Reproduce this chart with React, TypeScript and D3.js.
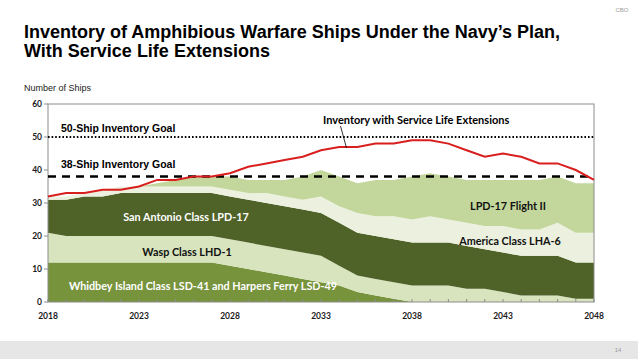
import React from "react";
import * as d3 from "d3";

const years = [2018, 2019, 2020, 2021, 2022, 2023, 2024, 2025, 2026, 2027, 2028, 2029, 2030, 2031, 2032, 2033, 2034, 2035, 2036, 2037, 2038, 2039, 2040, 2041, 2042, 2043, 2044, 2045, 2046, 2047, 2048];
const whidbey = [12, 12, 12, 12, 12, 12, 12, 12, 12, 12, 11, 10, 9, 8, 7, 6, 5, 3, 2, 1, 0, 0, 0, 0, 0, 0, 0, 0, 0, 0, 0];
const wasp = [9, 8, 8, 8, 8, 8, 8, 8, 8, 8, 8, 8, 8, 8, 8, 8, 6, 5, 5, 5, 5, 5, 5, 4, 4, 3, 2, 2, 2, 1, 1];
const sanAntonio = [10, 11, 12, 12, 13, 13, 13, 13, 13, 13, 13, 13, 13, 13, 13, 13, 13, 13, 13, 13, 13, 13, 13, 13, 12, 12, 12, 12, 12, 11, 11];
const america = [1, 1, 1, 2, 2, 2, 2, 2, 2, 2, 2, 2, 3, 3, 3, 5, 5, 6, 6, 7, 7, 8, 7, 7, 7, 8, 8, 8, 10, 9, 9];
const flightII = [0, 0, 0, 0, 0, 0, 1, 2, 3, 3, 4, 4, 4, 5, 7, 8, 9, 9, 11, 11, 13, 13, 13, 13, 14, 14, 15, 15, 14, 15, 15];
const inventorySLE = [32, 33, 33, 34, 34, 35, 37, 37, 38, 38, 39, 41, 42, 43, 44, 46, 47, 47, 48, 48, 49, 49, 48, 46, 44, 45, 44, 42, 42, 40, 37];

const yTicks = [0, 10, 20, 30, 40, 50, 60];
const xTickLabels = [2018, 2023, 2028, 2033, 2038, 2043, 2048];
const goal50 = 50;
const goal38 = 38;

const seriesKeys = ["whidbey", "wasp", "sanAntonio", "america", "flightII"];
const seriesColors: Record<string, string> = {
  whidbey: "#77933c",
  wasp: "#d7e4bd",
  sanAntonio: "#4f6228",
  america: "#ebf1de",
  flightII: "#c3d69b",
};

const W = 638;
const H = 359;

export default function App() {
  const x = d3.scaleLinear().domain([2018, 2048]).range([48, 594]);
  const y = d3.scaleLinear().domain([0, 60]).range([302, 104]);

  const table = years.map((yr, i) => ({
    year: yr,
    whidbey: whidbey[i],
    wasp: wasp[i],
    sanAntonio: sanAntonio[i],
    america: america[i],
    flightII: flightII[i],
  }));
  const stacked = d3.stack<any>().keys(seriesKeys)(table);
  const area = d3
    .area<any>()
    .x((d) => x(d.data.year))
    .y0((d) => y(d[0]))
    .y1((d) => y(d[1]));
  const line = d3
    .line<number>()
    .x((_, i) => x(years[i]))
    .y((d) => y(d));

  const labelFont = "Lato, 'Open Sans', sans-serif";
  const arial = "'Liberation Sans', Arial, sans-serif";

  return (
    <svg
      width={W}
      height={H}
      style={{ position: "absolute", left: 0, top: 0, background: "#fff" }}
    >
      <rect x={0} y={0} width={W} height={H} fill="#fff" />
      <rect x={0} y={341} width={W} height={H - 341} fill="#e6e6e6" />
      <text x={622} y={12} fontFamily={arial} fontSize={6} fill="#9a9a9a" textAnchor="middle">CBO</text>
      <text x={618} y={352} fontFamily={arial} fontSize={6} fill="#9a9a9a" textAnchor="middle">14</text>

      <text x={24} y={38} fontFamily={arial} fontWeight="bold" fontSize={18} fill="#000">
        Inventory of Amphibious Warfare Ships Under the Navy’s Plan,
      </text>
      <text x={24} y={56.5} fontFamily={arial} fontWeight="bold" fontSize={18} fill="#000">
        With Service Life Extensions
      </text>
      <text x={24} y={91} fontFamily={arial} fontSize={9} fill="#222">Number of Ships</text>

      {/* areas */}
      {stacked.map((s) => (
        <path key={s.key} d={area(s) || ""} fill={seriesColors[s.key]} stroke="none" />
      ))}

      {/* frame */}
      <rect x={48} y={104} width={546} height={198} fill="none" stroke="#8c8c8c" strokeWidth={1} />

      {/* x ticks every year, inward */}
      {years.map((yr) => (
        <line key={yr} x1={x(yr)} x2={x(yr)} y1={302} y2={299} stroke="#8c8c8c" strokeWidth={1} />
      ))}
      {yTicks.map((t) => (
        <line key={t} x1={44} x2={48} y1={y(t)} y2={y(t)} stroke="#8c8c8c" strokeWidth={1} />
      ))}
      {yTicks.map((t) => (
        <text key={t} x={42} y={y(t) + 3} fontFamily={labelFont} fontWeight="bold" fontSize={8.5} fill="#1a1a1a" textAnchor="end">
          {t}
        </text>
      ))}
      {xTickLabels.map((t) => (
        <text key={t} x={x(t)} y={319} fontFamily={labelFont} fontWeight="bold" fontSize={8.5} fill="#1a1a1a" textAnchor="middle">
          {t}
        </text>
      ))}

      {/* goal lines */}
      <line x1={48} x2={594} y1={y(goal50)} y2={y(goal50)} stroke="#000" strokeWidth={2} strokeDasharray="1.6,2" />
      <line x1={48} x2={594} y1={y(goal38)} y2={y(goal38)} stroke="#000" strokeWidth={2.5} strokeDasharray="8,6" />

      {/* red line */}
      <path d={line(inventorySLE) || ""} fill="none" stroke="#d91e1e" strokeWidth={2} />

      {/* labels */}
      <text x={61} y={132} fontFamily={arial} fontWeight="bold" fontSize={10.5} fill="#000">50-Ship Inventory Goal</text>
      <text x={61} y={168} fontFamily={arial} fontWeight="bold" fontSize={10.5} fill="#000">38-Ship Inventory Goal</text>
      <text x={323} y={124} fontFamily={labelFont} fontWeight="bold" fontSize={11} fill="#000">Inventory with Service Life Extensions</text>
      <line x1={340.5} y1={126} x2={346.5} y2={148} stroke="#000" strokeWidth={0.8} />

      <text x={186} y={221} fontFamily={labelFont} fontWeight="bold" fontSize={10.8} fill="#fff" textAnchor="middle">San Antonio Class LPD-17</text>
      <text x={187} y={256} fontFamily={labelFont} fontWeight="bold" fontSize={10.8} fill="#111" textAnchor="middle">Wasp Class LHD-1</text>
      <text x={203} y={290} fontFamily={labelFont} fontWeight="bold" fontSize={10.8} fill="#fff" textAnchor="middle">Whidbey Island Class LSD-41 and Harpers Ferry LSD-49</text>
      <text x={508} y={210} fontFamily={labelFont} fontWeight="bold" fontSize={10.8} fill="#111" textAnchor="middle">LPD-17 Flight II</text>
      <text x={510} y={245} fontFamily={labelFont} fontWeight="bold" fontSize={10.8} fill="#111" textAnchor="middle">America Class LHA-6</text>
    </svg>
  );
}
